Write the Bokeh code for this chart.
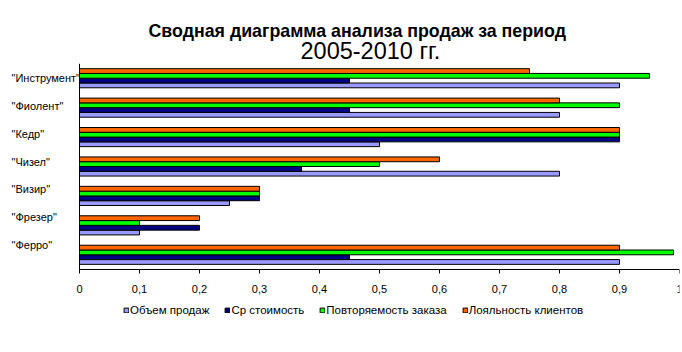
from bokeh.plotting import figure
from bokeh.models import (Range1d, ColumnDataSource, FixedTicker, Title, LinearAxis,
                          Legend, LegendItem, LabelSet)
from bokeh.core.properties import value
from bokeh.embed import file_html
from bokeh.resources import INLINE

# ---- data (bottom to top) ----
categories = ['"Ферро"', '"Фрезер"', '"Визир"', '"Чизел"', '"Кедр"', '"Фиолент"', '"Инструмент"']
sales_volume  = [0.90, 0.10, 0.25, 0.80, 0.50, 0.80, 0.90]
avg_cost      = [0.45, 0.20, 0.30, 0.37, 0.90, 0.45, 0.45]
repeat_orders = [0.99, 0.10, 0.30, 0.50, 0.90, 0.90, 0.95]
loyalty       = [0.90, 0.20, 0.30, 0.60, 0.90, 0.80, 0.75]
series_names  = ["Объем продаж", "Ср стоимость", "Повторяемость заказа", "Лояльность клиентов"]
x_ticks       = [0, 0.1, 0.2, 0.3, 0.4, 0.5, 0.6, 0.7, 0.8, 0.9, 1]
x_tick_labels = ["0", "0,1", "0,2", "0,3", "0,4", "0,5", "0,6", "0,7", "0,8", "0,9", "1"]
title_text    = "Сводная диаграмма анализа продаж за период"
subtitle_text = "2005-2010 гг."

colors = ["#9999FF", "#000080", "#00FF00", "#FF6600"]
FONT = "Liberation Sans"

# ---- layout constants ----
W, H = 682, 352
FRAME_LEFT_PX, FRAME_TOP_PX, BOTTOM_PX = 8, 63, 30
PX_X = 600.0                 # px per value unit
ZERO_X_PX = 79               # where value 0 sits on the canvas
AXIS_Y_PX = 269              # where the category band ends (value axis)
n = len(categories)
PX_Y = (AXIS_Y_PX - FRAME_TOP_PX) / n
frame_bottom_px = H - BOTTOM_PX
x_start = -(ZERO_X_PX - FRAME_LEFT_PX) / PX_X
label_x = -(ZERO_X_PX - 11) / PX_X
y_start = -(frame_bottom_px - AXIS_Y_PX) / PX_Y
LABEL_STEP = 27.8 / PX_Y      # the original's category labels sit a little closer together

cat_pos = [i + 0.5 for i in range(n)]
label_pos = [n - 0.5 - (n - 1 - i) * LABEL_STEP for i in range(n)]
source = ColumnDataSource(dict(cat=categories, pos=cat_pos, lpos=label_pos,
                               s0=sales_volume, s1=avg_cost,
                               s2=repeat_orders, s3=loyalty))

p = figure(width=W, height=H,
           y_range=Range1d(y_start, n), x_range=Range1d(x_start, 1),
           x_axis_location=None, y_axis_location=None,
           output_backend="svg", toolbar_location=None,
           min_border_left=FRAME_LEFT_PX, min_border_right=3,
           min_border_bottom=BOTTOM_PX, min_border_top=FRAME_TOP_PX)

p.title.text = title_text
p.title.text_font = FONT
p.title.text_font_size = "17.8px"
p.title.text_font_style = "bold"
p.title.text_color = "black"
p.title.align = "left"
p.title.offset = 140
p.title.standoff = -10

sub = Title(text=subtitle_text, text_font=FONT, text_font_size="23.5px",
            text_font_style="normal", text_color="black",
            align="left", offset=292, standoff=0)
p.add_layout(sub, "above")

bar_h = 0.1625
offsets = [-1.5 * bar_h, -0.5 * bar_h, 0.5 * bar_h, 1.5 * bar_h]
renderers = []
for i, (col, off) in enumerate(zip(["s0", "s1", "s2", "s3"], offsets)):
    source.data["y%d" % i] = [c + off for c in cat_pos]
    r = p.hbar(y="y%d" % i, left=0, right=col, height=bar_h,
               source=source, fill_color=colors[i], line_color="black", line_width=1)
    renderers.append(r)

# value axis (horizontal) at the bottom of the category band
xa = LinearAxis(fixed_location=0, bounds=(0, 1), ticker=FixedTicker(ticks=x_ticks),
                major_label_overrides=dict(zip(x_ticks, x_tick_labels)),
                major_tick_in=0, major_tick_out=4, minor_tick_line_color=None,
                major_label_standoff=11, major_label_text_font=FONT,
                major_label_text_font_size="11px", major_label_text_color="black",
                axis_line_color="black", major_tick_line_color="black")
p.add_layout(xa, "below")

# category axis line at value 0
ya = LinearAxis(fixed_location=0, bounds=(0, n), major_tick_line_color=None,
                minor_tick_line_color=None, major_label_text_color=None,
                major_label_standoff=0, major_label_text_font_size="1px",
                axis_line_color="black")
p.add_layout(ya, "left")

legend = Legend(items=[LegendItem(label=s, renderers=[r]) for s, r in zip(series_names, renderers)],
                orientation="horizontal",
                location=(123 - FRAME_LEFT_PX, frame_bottom_px - 316),
                border_line_color=None, background_fill_alpha=0,
                padding=0, margin=0, spacing=15, label_standoff=1,
                glyph_width=6, glyph_height=6, label_height=12,
                label_text_font=FONT, label_text_font_size="11.5px",
                label_text_color="black")
p.add_layout(legend)

# category labels (left aligned like the original)
labels = LabelSet(x=label_x, y="lpos", text="cat", source=source,
                  text_align="left", text_baseline="middle",
                  text_font=value(FONT), text_font_size="11px", text_color="black")
p.add_layout(labels)

p.xgrid.visible = False
p.ygrid.visible = False
p.outline_line_color = None

open("out.html", "w").write(file_html(p, INLINE))
